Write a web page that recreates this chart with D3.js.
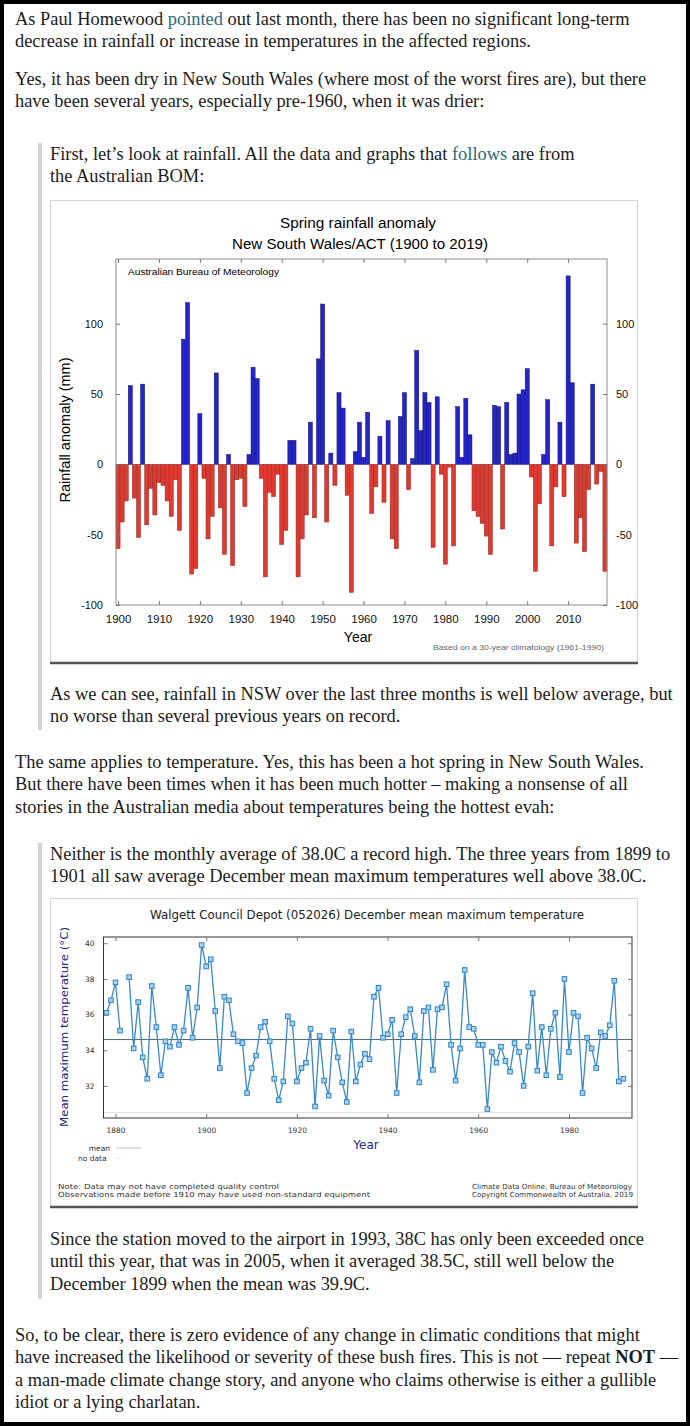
<!DOCTYPE html>
<html lang="en">
<head>
<meta charset="utf-8">
<title>Spring rainfall and December temperature</title>
<script src="https://cdn.jsdelivr.net/npm/d3@7/dist/d3.min.js"></script>
<style>
  body { margin: 0; background: #fff; }
  svg { display: block; }
</style>
</head>
<body>
<script>
var W = 690, H = 1426;

// spring rainfall anomaly NSW/ACT (mm), 1900 to 2019
var rainYears = d3.range(1900, 2020);
var rainValues = [
  -60, -41, -26, 56, -24, -52, 57, -43, -17, -36,
  -13, -15, -26, -37, -11, -47, 89, 115, -78, -74,
  36, -10, -53, -37, 65, -31, -64, 7, -72, -11,
  -10, -30, 7, 69, 61, -10, -80, -20, -23, -7,
  -57, -47, 17, 17, -80, -53, -36, 30, -38, 75,
  114, -41, 8, -15, 51, 40, -22, -91, 9, 30,
  5, 37, -35, -16, 20, -27, 31, -53, -60, 34,
  51, -18, 4, 81, 24, 51, 44, -59, 48, -7,
  -71, -2, -58, 41, 5, 47, 21, -33, -37, -42,
  -51, -64, 42, 41, -46, 44, 7, 8, 50, 53,
  68, -9, -76, -28, 7, 46, -58, -16, 30, -23,
  134, 58, -56, -38, -62, -18, 57, -14, -5, -76
];
var rainTicksY = [-100, -50, 0, 50, 100];
var rainTicksX = [1900, 1910, 1920, 1930, 1940, 1950, 1960, 1970, 1980, 1990, 2000, 2010];

// Walgett Council Depot, December mean maximum temperature (C), 1878 to 1992
var tempYears = d3.range(1878, 1993);
var tempValues = [
  36.1, 36.8, 37.8, 35.1, null, 38.1, 34.1, 36.7, 33.6, 32.4,
  37.6, 35.3, 32.6, 34.5, 34.2, 35.3, 34.3, 35.1, 37.5, 34.7,
  36.4, 39.9, 38.7, 39.1, 36.2, 33.0, 37.0, 36.8, 34.9, 34.5,
  34.4, 31.6, 33.0, 33.7, 35.3, 35.6, 34.5, 32.4, 31.2, 32.25,
  35.9, 35.5, 32.25, 33.0, 33.3, 35.2, 30.85, 34.8, 32.3, 31.45,
  35.1, 33.6, 32.2, 31.1, 35.05, 32.25, 33.2, 33.8, 33.5, 37.0,
  37.5, 34.7, 34.9, 35.7, 31.6, 34.9, 35.85, 36.3, 34.8, 32.2,
  36.2, 36.4, 32.9, 36.3, 36.4, 37.7, 34.3, 32.3, 34.1, 38.5,
  35.3, 35.2, 34.3, 34.3, 30.7, 33.9, 33.3, 34.2, 33.4, 32.8,
  34.4, 33.9, 32.0, 34.2, 37.2, 32.85, 35.3, 32.6, 35.2, 36.1,
  32.5, 38.0, 33.9, 36.1, 35.9, 31.6, 34.7, 34.1, 33.0, 35.0,
  34.8, 35.4, 37.9, 32.25, 32.4
];
var tempMean = 34.6;
var tempTicksY = [32, 34, 36, 38, 40];
var tempTicksX = [1880, 1900, 1920, 1940, 1960, 1980];

// article text, {..} = link, *..* = bold
var para1 = ["As Paul Homewood {pointed} out last month, there has been no significant long-term",
             "decrease in rainfall or increase in temperatures in the affected regions."];
var para2 = ["Yes, it has been dry in New South Wales (where most of the worst fires are), but there",
             "have been several years, especially pre-1960, when it was drier:"];
var quote1 = ["First, let\u2019s look at rainfall. All the data and graphs that {follows} are from",
              "the Australian BOM:"];
var quote1b = ["As we can see, rainfall in NSW over the last three months is well below average, but",
               "no worse than several previous years on record."];
var para3 = ["The same applies to temperature. Yes, this has been a hot spring in New South Wales.",
             "But there have been times when it has been much hotter \u2013 making a nonsense of all",
             "stories in the Australian media about temperatures being the hottest evah:"];
var quote2 = ["Neither is the monthly average of 38.0C a record high. The three years from 1899 to",
              "1901 all saw average December mean maximum temperatures well above 38.0C."];
var quote2b = ["Since the station moved to the airport in 1993, 38C has only been exceeded once",
               "until this year, that was in 2005, when it averaged 38.5C, still well below the",
               "December 1899 when the mean was 39.9C."];
var para4 = ["So, to be clear, there is zero evidence of any change in climatic conditions that might",
             "have increased the likelihood or severity of these bush fires. This is not \u2014 repeat *NOT* \u2014",
             "a man-made climate change story, and anyone who claims otherwise is either a gullible",
             "idiot or a lying charlatan."];

var svg = d3.select("body").append("svg")
    .attr("width", W)
    .attr("height", H);

svg.append("rect")
    .attr("x", 2).attr("y", 2)
    .attr("width", W - 4).attr("height", H - 4)
    .attr("fill", "#fff")
    .attr("stroke", "#000")
    .attr("stroke-width", 4);

// blockquote bars
svg.append("rect").attr("x", 38).attr("y", 143).attr("width", 4).attr("height", 587).attr("fill", "#d3d3d3");
svg.append("rect").attr("x", 38).attr("y", 843).attr("width", 4).attr("height", 456).attr("fill", "#d3d3d3");

// work out a body font size so a full line is as wide as in the picture
var probe = svg.append("text").attr("font-family", "Liberation Serif").attr("font-size", 16)
    .text(para1[0].replace(/[{}*]/g, ""));
var bodySize = 16 * 615 / probe.node().getComputedTextLength();
probe.remove();

function drawLines(lines, x, y0) {
  lines.forEach(function(line, i) {
    var t = svg.append("text")
        .attr("x", x)
        .attr("y", y0 + i * 22.4)
        .attr("font-family", "Liberation Serif")
        .attr("font-size", bodySize)
        .attr("fill", "#1c1c1c");
    line.split(/(\{[^}]*\}|\*[^*]*\*)/).forEach(function(part) {
      if (part === "") return;
      var s = t.append("tspan");
      if (part[0] === "{") {
        s.text(part.slice(1, -1)).attr("fill", "#2a6b78");
      } else if (part[0] === "*") {
        s.text(part.slice(1, -1)).attr("font-weight", "bold");
      } else {
        s.text(part);
      }
    });
  });
}

drawLines(para1, 15, 25);
drawLines(para2, 15, 85);
drawLines(quote1, 50, 160);
drawLines(quote1b, 50, 700);
drawLines(para3, 15, 768);
drawLines(quote2, 50, 860);
drawLines(quote2b, 50, 1245);
drawLines(para4, 15, 1341);

var plain = function(d) { return String(d); };

// ---------- chart 1: spring rainfall anomaly ----------
var f1 = svg.append("g");
f1.append("rect").attr("x", 50.5).attr("y", 200.5).attr("width", 587).attr("height", 462)
    .attr("fill", "#fff").attr("stroke", "#d6d6d6");
f1.append("line").attr("x1", 50).attr("x2", 638).attr("y1", 663).attr("y2", 663)
    .attr("stroke", "#555").attr("stroke-width", 2.5);

var c1 = {left: 116, right: 607, top: 259, bottom: 605};
var x1 = d3.scaleLinear().domain([1899.5, 2019.5]).range([c1.left, c1.right]);
var y1 = d3.scaleLinear().domain([-100, 146]).range([c1.bottom, c1.top]);
var bw = x1(1) - x1(0);

var rain = rainYears.map(function(y, i) { return {year: y, v: rainValues[i]}; });

f1.selectAll("rect.bar")
    .data(rain)
    .enter()
    .append("rect")
    .attr("class", "bar")
    .attr("x", function(d) { return x1(d.year) - bw / 2; })
    .attr("width", bw)
    .attr("y", function(d) { return d.v > 0 ? y1(d.v) : y1(0); })
    .attr("height", function(d) { return Math.abs(y1(d.v) - y1(0)); })
    .attr("fill", function(d) { return d.v > 0 ? "#2424c9" : "#e0392f"; })
    .attr("stroke", function(d) { return d.v > 0 ? "#121270" : "#8e2a24"; })
    .attr("stroke-width", 0.5);

f1.append("rect").attr("x", c1.left).attr("y", c1.top)
    .attr("width", c1.right - c1.left).attr("height", c1.bottom - c1.top)
    .attr("fill", "none").attr("stroke", "#8c8c8c").attr("stroke-width", 1);

function styleAxis(g, font, size, color) {
  g.select(".domain").remove();
  g.selectAll(".tick line").attr("stroke", "#777");
  g.selectAll("text").attr("font-family", font).attr("font-size", size).attr("fill", color);
}

f1.append("g").attr("transform", "translate(" + c1.left + ",0)")
    .call(d3.axisLeft(y1).tickValues(rainTicksY).tickFormat(plain).tickSize(-4).tickPadding(13))
    .call(styleAxis, "Liberation Sans", 11, "#111");
f1.append("g").attr("transform", "translate(" + c1.right + ",0)")
    .call(d3.axisRight(y1).tickValues(rainTicksY).tickFormat(plain).tickSize(-4).tickPadding(9))
    .call(styleAxis, "Liberation Sans", 11, "#111");
f1.append("g").attr("transform", "translate(0," + c1.bottom + ")")
    .call(d3.axisBottom(x1).tickValues(rainTicksX).tickFormat(plain).tickSize(-4).tickPadding(10))
    .call(styleAxis, "Liberation Sans", 11.5, "#111");
f1.append("g").attr("transform", "translate(0," + c1.top + ")")
    .call(d3.axisTop(x1).tickValues(rainTicksX).tickFormat("").tickSize(-4))
    .call(styleAxis, "Liberation Sans", 11, "#111");

f1.append("text").attr("x", 358).attr("y", 228).attr("text-anchor", "middle")
    .attr("font-family", "Liberation Sans").attr("font-size", 15.5)
    .attr("textLength", 156).attr("lengthAdjust", "spacingAndGlyphs")
    .text("Spring rainfall anomaly");
f1.append("text").attr("x", 360).attr("y", 249).attr("text-anchor", "middle")
    .attr("font-family", "Liberation Sans").attr("font-size", 15.5)
    .attr("textLength", 256).attr("lengthAdjust", "spacingAndGlyphs")
    .text("New South Wales/ACT (1900 to 2019)");
f1.append("text").attr("x", 128).attr("y", 275)
    .attr("font-family", "Liberation Sans").attr("font-size", 9.5)
    .attr("textLength", 151).attr("lengthAdjust", "spacingAndGlyphs")
    .text("Australian Bureau of Meteorology");
f1.append("text").attr("x", 358).attr("y", 642).attr("text-anchor", "middle")
    .attr("font-family", "Liberation Sans").attr("font-size", 14)
    .text("Year");
f1.append("text").attr("x", 433).attr("y", 650)
    .attr("font-family", "Liberation Sans").attr("font-size", 7).attr("fill", "#666")
    .attr("textLength", 171).attr("lengthAdjust", "spacingAndGlyphs")
    .text("Based on a 30-year climatology (1961-1990)");
f1.append("text")
    .attr("transform", "translate(70,430) rotate(-90)")
    .attr("text-anchor", "middle")
    .attr("font-family", "Liberation Sans").attr("font-size", 14.5)
    .text("Rainfall anomaly (mm)");

// ---------- chart 2: Walgett December mean maximum ----------
var f2 = svg.append("g");
f2.append("rect").attr("x", 50.5).attr("y", 898.5).attr("width", 587).attr("height", 308)
    .attr("fill", "#fff").attr("stroke", "#d6d6d6");
f2.append("line").attr("x1", 50).attr("x2", 638).attr("y1", 1207).attr("y2", 1207)
    .attr("stroke", "#555").attr("stroke-width", 2.5);

var c2 = {left: 103.5, right: 632, top: 937, bottom: 1118};
var x2 = d3.scaleLinear().domain([1877.35, 1993.9]).range([c2.left, c2.right]);
var y2 = d3.scaleLinear().domain([30.2, 40.35]).range([c2.bottom, c2.top]);

var temp = tempYears.map(function(y, i) { return {year: y, v: tempValues[i]}; });

// faint no-data baseline
f2.append("line").attr("x1", c2.left).attr("x2", c2.right)
    .attr("y1", y2(30.5)).attr("y2", y2(30.5))
    .attr("stroke", "#dcdcdc").attr("stroke-width", 1);

f2.append("line").attr("x1", c2.left).attr("x2", c2.right)
    .attr("y1", y2(tempMean)).attr("y2", y2(tempMean))
    .attr("stroke", "#4d6a78").attr("stroke-width", 1);

var line2 = d3.line()
    .defined(function(d) { return d.v !== null; })
    .x(function(d) { return x2(d.year); })
    .y(function(d) { return y2(d.v); });

f2.append("path").datum(temp)
    .attr("d", line2)
    .attr("fill", "none")
    .attr("stroke", "#3a8ac6")
    .attr("stroke-width", 1.3);

f2.selectAll("rect.pt")
    .data(temp.filter(function(d) { return d.v !== null; }))
    .enter()
    .append("rect")
    .attr("class", "pt")
    .attr("x", function(d) { return x2(d.year) - 2.3; })
    .attr("y", function(d) { return y2(d.v) - 2.3; })
    .attr("width", 4.6).attr("height", 4.6)
    .attr("fill", "#a9d3f2")
    .attr("stroke", "#2f82c4")
    .attr("stroke-width", 1);

f2.append("rect").attr("x", c2.left).attr("y", c2.top)
    .attr("width", c2.right - c2.left).attr("height", c2.bottom - c2.top)
    .attr("fill", "none").attr("stroke", "#333").attr("stroke-width", 1);

f2.append("g").attr("transform", "translate(" + c2.left + ",0)")
    .call(d3.axisLeft(y2).tickValues(tempTicksY).tickFormat(plain).tickSize(-4).tickPadding(9))
    .call(styleAxis, "DejaVu Sans", 7.5, "#333");
f2.append("g").attr("transform", "translate(" + c2.right + ",0)")
    .call(d3.axisRight(y2).tickValues(tempTicksY).tickFormat("").tickSize(-4))
    .call(styleAxis, "DejaVu Sans", 7.5, "#333");
f2.append("g").attr("transform", "translate(0," + c2.bottom + ")")
    .call(d3.axisBottom(x2).tickValues(tempTicksX).tickFormat(plain).tickSize(-4).tickPadding(10))
    .call(styleAxis, "DejaVu Sans", 7.5, "#333");
f2.append("g").attr("transform", "translate(0," + c2.top + ")")
    .call(d3.axisTop(x2).tickValues(tempTicksX).tickFormat("").tickSize(-4))
    .call(styleAxis, "DejaVu Sans", 7.5, "#333");

f2.append("text").attr("x", 367).attr("y", 919).attr("text-anchor", "middle")
    .attr("font-family", "DejaVu Sans").attr("font-size", 11.5).attr("fill", "#222")
    .attr("textLength", 434).attr("lengthAdjust", "spacingAndGlyphs")
    .text("Walgett Council Depot (052026) December mean maximum temperature");
f2.append("text").attr("x", 366).attr("y", 1149).attr("text-anchor", "middle")
    .attr("font-family", "DejaVu Sans").attr("font-size", 12).attr("fill", "#1f2a80")
    .text("Year");
f2.append("text")
    .attr("transform", "translate(68,1027) rotate(-90)")
    .attr("text-anchor", "middle")
    .attr("font-family", "DejaVu Sans").attr("font-size", 11).attr("fill", "#1f2a80")
    .attr("textLength", 200).attr("lengthAdjust", "spacingAndGlyphs")
    .text("Mean maximum temperature (\u00B0C)");

// legend
f2.append("text").attr("x", 110).attr("y", 1151).attr("text-anchor", "end")
    .attr("font-family", "DejaVu Sans").attr("font-size", 7.5).attr("fill", "#333").text("mean");
f2.append("line").attr("x1", 116).attr("x2", 141).attr("y1", 1148).attr("y2", 1148)
    .attr("stroke", "#c4c4c4").attr("stroke-width", 1);
f2.append("text").attr("x", 78).attr("y", 1161)
    .attr("font-family", "DejaVu Sans").attr("font-size", 7.5).attr("fill", "#333").text("no data");
f2.append("line").attr("x1", 117).attr("x2", 121).attr("y1", 1158).attr("y2", 1158)
    .attr("stroke", "#e4e4e4").attr("stroke-width", 1);

// notes
var notesLeft = ["Note: Data may not have completed quality control",
                 "Observations made before 1910 may have used non-standard equipment"];
var notesRight = ["Climate Data Online, Bureau of Meteorology",
                  "Copyright Commonwealth of Australia, 2019"];
var notesLeftW = [221, 312], notesRightW = [160, 161];
notesLeft.forEach(function(s, i) {
  f2.append("text").attr("x", 58).attr("y", 1189 + i * 8)
      .attr("font-family", "DejaVu Sans").attr("font-size", 7).attr("fill", "#333")
      .attr("textLength", notesLeftW[i]).attr("lengthAdjust", "spacingAndGlyphs").text(s);
});
notesRight.forEach(function(s, i) {
  f2.append("text").attr("x", 472).attr("y", 1189 + i * 8)
      .attr("font-family", "DejaVu Sans").attr("font-size", 7).attr("fill", "#333")
      .attr("textLength", notesRightW[i]).attr("lengthAdjust", "spacingAndGlyphs").text(s);
});
</script>
</body>
</html>
